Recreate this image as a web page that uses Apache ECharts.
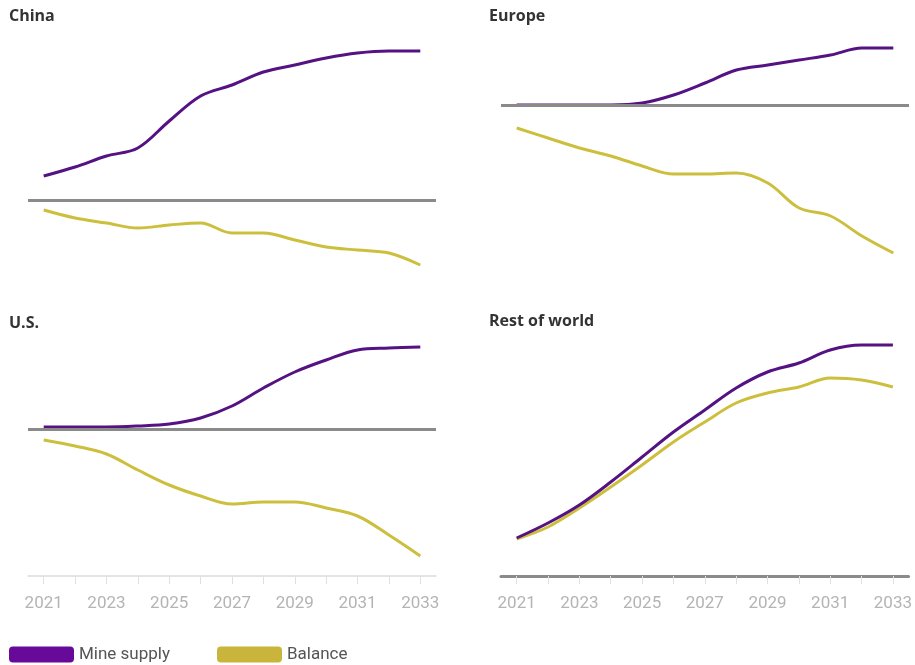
<!DOCTYPE html>
<html>
<head>
<meta charset="utf-8">
<title>Mine supply and balance by region</title>
<script src="https://cdn.jsdelivr.net/npm/echarts@6/dist/echarts.min.js"></script>
<style>
  html, body { margin: 0; padding: 0; background: #ffffff; }
  #chart { width: 915px; height: 665px; }
</style>
</head>
<body>
<div id="chart"></div>
<script>
// years on the x axis
var years = ['2021', '2022', '2023', '2024', '2025', '2026', '2027', '2028', '2029', '2030', '2031', '2032', '2033'];

// values (relative units, each panel has its own scale)
var chinaSupply  = [24, 33, 44, 52, 79, 104, 115, 128, 135, 142, 147, 149, 149];
var chinaBalance = [-10, -18, -23, -28, -25, -23, -33, -33, -40, -47, -50, -53, -65];

var europeSupply  = [0, 0, 0, 0, 2, 10, 22, 35, 40, 45, 50, 57, 57];
var europeBalance = [-23, -33, -43, -51, -61, -69, -69, -68, -78, -103, -111, -131, -148];

var usSupply  = [2, 2, 2, 3, 5, 11, 23, 41, 57, 69, 79, 81, 82];
var usBalance = [-11, -17, -25, -41, -56, -67, -75, -73, -73, -79, -87, -106, -127];

var rowSupply  = [38, 53, 71, 94, 119, 144, 166, 188, 204, 213, 226, 231, 231];
var rowBalance = [37, 49, 68, 89, 111, 134, 154, 173, 183, 189, 198, 196, 189];

var panelNames = ['China', 'Europe', 'U.S.', 'Rest of world'];

var purpleLine = '#541283';
var purpleKey = '#670a99';
var goldLine = '#cdbf3e';
var goldKey = '#c9b43c';

var chart = echarts.init(document.getElementById('chart'));

function xAxisFor(gridIndex, bottomRow, dark) {
    return {
        type: 'category',
        gridIndex: gridIndex,
        data: years,
        show: bottomRow,
        boundaryGap: true,
        axisLine: {
            show: true,
            onZero: false,
            lineStyle: { color: dark ? '#8a8a8a' : '#dcdcdc', width: dark ? 3 : 1.5 }
        },
        axisTick: {
            show: true,
            alignWithLabel: true,
            interval: 0,
            length: 8,
            lineStyle: { color: '#e0e0e0' }
        },
        axisLabel: {
            interval: 1,
            margin: 19,
            color: '#b4b4b4',
            fontSize: 17,
            fontFamily: 'Roboto, sans-serif'
        }
    };
}

function yAxisFor(gridIndex, min, max) {
    return {
        type: 'value',
        gridIndex: gridIndex,
        min: min,
        max: max,
        show: false,
        splitLine: { show: false }
    };
}

var zeroLine = {
    silent: true,
    symbol: 'none',
    label: { show: false },
    lineStyle: { color: '#8a8a8a', width: 3, type: 'solid' },
    data: [{ yAxis: 0 }]
};

function pair(idx, supply, balance, withZero) {
    var s = {
        name: 'Mine supply',
        type: 'line',
        xAxisIndex: idx,
        yAxisIndex: idx,
        data: supply,
        smooth: 0.35,
        showSymbol: false,
        z: 3,
        itemStyle: { color: purpleKey },
        lineStyle: { color: purpleLine, width: 3 }
    };
    var b = {
        name: 'Balance',
        type: 'line',
        xAxisIndex: idx,
        yAxisIndex: idx,
        data: balance,
        smooth: 0.35,
        showSymbol: false,
        z: 2,
        itemStyle: { color: goldKey },
        lineStyle: { color: goldLine, width: 3 }
    };
    if (withZero) b.markLine = zeroLine;
    return [s, b];
}

var titleStyle = { fontSize: 16, fontWeight: 'bold', color: '#333333', fontFamily: 'Open Sans, sans-serif' };

var option = {
    animation: false,
    title: [
        { text: panelNames[0], left: 4, top: 3, textStyle: titleStyle },
        { text: panelNames[1], left: 484, top: 3, textStyle: titleStyle },
        { text: panelNames[2], left: 4, top: 310, textStyle: titleStyle },
        { text: panelNames[3], left: 484, top: 308, textStyle: titleStyle }
    ],
    legend: {
        left: 9,
        top: 646,
        padding: 0,
        icon: 'roundRect',
        itemWidth: 65,
        itemHeight: 16,
        itemGap: 47,
        textStyle: { color: '#555555', fontSize: 17, fontFamily: 'Roboto, sans-serif' },
        data: ['Mine supply', 'Balance']
    },
    grid: [
        { left: 28, width: 408, top: 40, height: 240 },
        { left: 501, width: 408, top: 40, height: 240 },
        { left: 28, width: 408, top: 330, height: 246 },
        { left: 501, width: 408, top: 330, height: 246 }
    ],
    xAxis: [
        xAxisFor(0, false, false),
        xAxisFor(1, false, false),
        xAxisFor(2, true, false),
        xAxisFor(3, true, true)
    ],
    yAxis: [
        yAxisFor(0, -80, 160),
        yAxisFor(1, -175, 65),
        yAxisFor(2, -147, 99),
        yAxisFor(3, 0, 246)
    ],
    series: [].concat(
        pair(0, chinaSupply, chinaBalance, true),
        pair(1, europeSupply, europeBalance, true),
        pair(2, usSupply, usBalance, true),
        pair(3, rowSupply, rowBalance, false)
    )
};

chart.setOption(option);
</script>
</body>
</html>
